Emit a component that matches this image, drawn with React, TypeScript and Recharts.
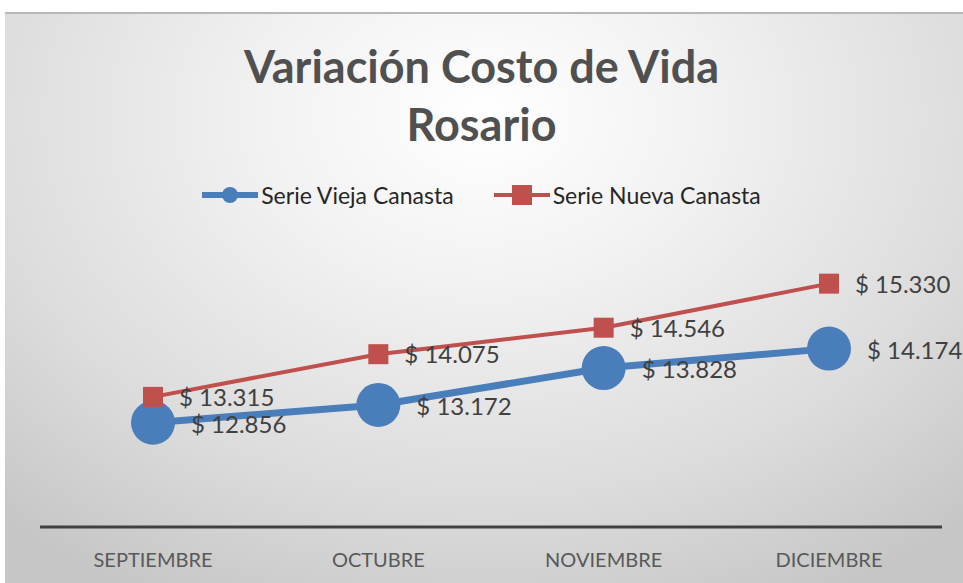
import { LineChart, Line, XAxis, YAxis, Legend } from "recharts";

const months = ["SEPTIEMBRE", "OCTUBRE", "NOVIEMBRE", "DICIEMBRE"];
const viejaCanasta = [12856, 13172, 13828, 14174];
const nuevaCanasta = [13315, 14075, 14546, 15330];

const BLUE = "#4a7ebb";
const RED = "#c0504d";
const FONT = "Lato, 'Open Sans', sans-serif";

const data = months.map((m, i) => ({
  mes: m,
  vieja: viejaCanasta[i],
  nueva: nuevaCanasta[i],
}));

const fmt = (v: number) => "$ " + v.toLocaleString("de-DE");

function makeLabel(dx: number, dy: number) {
  return (props: any) => {
    const { x, y, value } = props;
    return (
      <text x={x + dx} y={y + dy} fontSize={24} fill="#404040" fontFamily={FONT} dominantBaseline="middle">
        {fmt(value)}
      </text>
    );
  };
}

function SquareDot(props: any) {
  const { cx, cy } = props;
  if (cx == null || cy == null) return null;
  return <rect x={cx - 10} y={cy - 10} width={20} height={20} fill={RED} />;
}

function LegendContent() {
  const items = [
    { name: "Serie Vieja Canasta", color: BLUE, square: false },
    { name: "Serie Nueva Canasta", color: RED, square: true },
  ];
  return (
    <div style={{ display: "flex", justifyContent: "center", gap: 40, fontFamily: FONT, fontSize: 23, color: "#262626" }}>
      {items.map((it) => (
        <div key={it.name} style={{ display: "flex", alignItems: "center" }}>
          <svg width={56} height={22}>
            <line x1={0} y1={11} x2={56} y2={11} stroke={it.color} strokeWidth={it.square ? 4 : 6} />
            {it.square ? (
              <rect x={18} y={1} width={20} height={20} fill={it.color} />
            ) : (
              <circle cx={28} cy={11} r={8} fill={it.color} />
            )}
          </svg>
          <span style={{ marginLeft: 3 }}>{it.name}</span>
        </div>
      ))}
    </div>
  );
}

export default function App() {
  return (
    <div style={{ position: "relative", width: 963, height: 583, background: "#fff", overflow: "hidden" }}>
      <style>{"html,body{margin:0;padding:0;overflow:hidden}"}</style>
      <div
        style={{
          position: "absolute",
          left: 5,
          top: 12,
          width: 958,
          height: 571,
          borderTop: "2px solid #b8b8b8",
          background:
            "radial-gradient(ellipse 75% 95% at 50% 18%, #ffffff 0%, #f2f2f2 30%, #dcdcdc 70%, #c6c6c6 100%)",
        }}
      />
      <div
        style={{
          position: "absolute",
          left: 0,
          top: 37,
          width: 963,
          textAlign: "center",
          fontFamily: FONT,
          fontWeight: 700,
          fontSize: 45,
          lineHeight: "58px",
          color: "#505050",
        }}
      >
        Variación Costo de Vida
        <br />
        Rosario
      </div>
      <div style={{ position: "absolute", left: 0, top: 0 }}>
        <LineChart width={963} height={583} data={data} margin={{ top: 246, right: 21, bottom: 0, left: 40 }}>
          <XAxis
            dataKey="mes"
            height={56}
            padding={{ left: 113, right: 113 }}
            tickLine={false}
            axisLine={{ stroke: "#404040", strokeWidth: 3 }}
            tick={{ fill: "#595959", fontSize: 20, fontFamily: FONT }}
            tickMargin={20}
          />
          <YAxis hide domain={[11000, 16000]} />
          <Legend
            verticalAlign="middle"
            content={<LegendContent />}
            wrapperStyle={{ top: 181, left: 0, width: 963 }}
          />
          <Line
            dataKey="vieja"
            name="Serie Vieja Canasta"
            stroke={BLUE}
            strokeWidth={7}
            dot={{ r: 22, fill: BLUE, stroke: BLUE, strokeWidth: 0 }}
            label={makeLabel(38, 4)}
            isAnimationActive={false}
          />
          <Line
            dataKey="nueva"
            name="Serie Nueva Canasta"
            stroke={RED}
            strokeWidth={4}
            dot={<SquareDot />}
            label={makeLabel(26, 3)}
            isAnimationActive={false}
          />
        </LineChart>
      </div>
    </div>
  );
}
